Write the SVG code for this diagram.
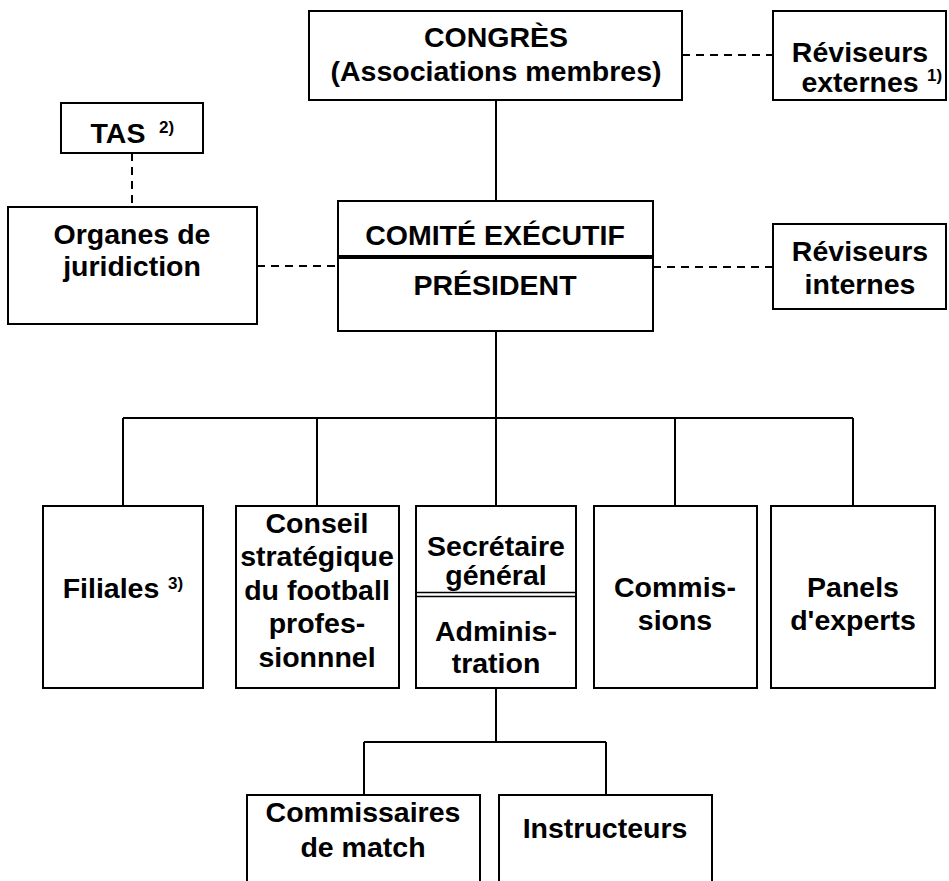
<svg xmlns="http://www.w3.org/2000/svg" width="949" height="881" viewBox="0 0 949 881">
<style>
.box{fill:#fff;stroke:#000;stroke-width:2}
.ln{fill:none;stroke:#000;stroke-width:2}
.dash{fill:none;stroke:#000;stroke-width:2;stroke-dasharray:8 6}
text{font-family:"Liberation Sans",Arial,sans-serif;font-weight:bold;font-size:28.5px;fill:#000;text-anchor:middle}
text.sup{font-size:17px;text-anchor:start}
</style>
<rect width="949" height="881" fill="#fff"/>
<g id="connectors">
<path class="ln" d="M496 100V201M496 331V506M123 418H853M123 418V506M317 418V506M675 418V506M853 418V506M496 688V742M364 742H606M364 742V795M606 742V795"/>
<path class="dash" d="M682 55H773M653 267H773M257 266H338M132 153V207"/>
</g>
<g id="congres">
<rect class="box" x="309" y="11" width="373" height="89"/>
<text x="496" y="47">CONGRÈS</text>
<text x="496" y="81">(Associations membres)</text>
</g>
<g id="reviseurs-externes">
<rect class="box" x="773" y="11" width="173" height="89"/>
<text x="860" y="62">Réviseurs</text>
<text x="860" y="92">externes</text>
<text class="sup" x="927" y="81">1)</text>
</g>
<g id="tas">
<rect class="box" x="61" y="103" width="142" height="50"/>
<text x="118" y="143">TAS</text>
<text class="sup" x="159" y="133">2)</text>
</g>
<g id="organes">
<rect class="box" x="8" y="207" width="249" height="117"/>
<text x="132" y="244">Organes de</text>
<text x="132" y="276">juridiction</text>
</g>
<g id="comite">
<rect class="box" x="338" y="201" width="315" height="130"/>
<line x1="338" y1="257" x2="653" y2="257" stroke="#000" stroke-width="4"/>
<text x="495" y="245">COMITÉ EXÉCUTIF</text>
<text x="495" y="295">PRÉSIDENT</text>
</g>
<g id="reviseurs-internes">
<rect class="box" x="773" y="224" width="173" height="85"/>
<text x="860" y="261">Réviseurs</text>
<text x="860" y="294">internes</text>
</g>
<g id="filiales">
<rect class="box" x="43" y="506" width="160" height="182"/>
<text x="111" y="598">Filiales</text>
<text class="sup" x="168" y="589">3)</text>
</g>
<g id="conseil">
<rect class="box" x="236" y="506" width="163" height="182"/>
<text x="317" y="533">Conseil</text>
<text x="317" y="566">stratégique</text>
<text x="317" y="600">du football</text>
<text x="317" y="633">profes-</text>
<text x="317" y="667">sionnnel</text>
</g>
<g id="secretaire">
<rect class="box" x="416" y="506" width="160" height="182"/>
<line x1="416" y1="592.5" x2="576" y2="592.5" stroke="#000" stroke-width="1.5"/>
<line x1="416" y1="596.5" x2="576" y2="596.5" stroke="#000" stroke-width="1.5"/>
<text x="496" y="556">Secrétaire</text>
<text x="496" y="585">général</text>
<text x="496" y="641">Adminis-</text>
<text x="496" y="673">tration</text>
</g>
<g id="commissions">
<rect class="box" x="594" y="506" width="163" height="182"/>
<text x="675" y="597">Commis-</text>
<text x="675" y="630">sions</text>
</g>
<g id="panels">
<rect class="box" x="771" y="506" width="164" height="182"/>
<text x="853" y="597">Panels</text>
<text x="853" y="630">d'experts</text>
</g>
<g id="commissaires">
<rect class="box" x="247" y="795" width="233" height="110"/>
<text x="363" y="822">Commissaires</text>
<text x="363" y="857">de match</text>
</g>
<g id="instructeurs">
<rect class="box" x="499" y="795" width="213" height="110"/>
<text x="605" y="838">Instructeurs</text>
</g>
</svg>
